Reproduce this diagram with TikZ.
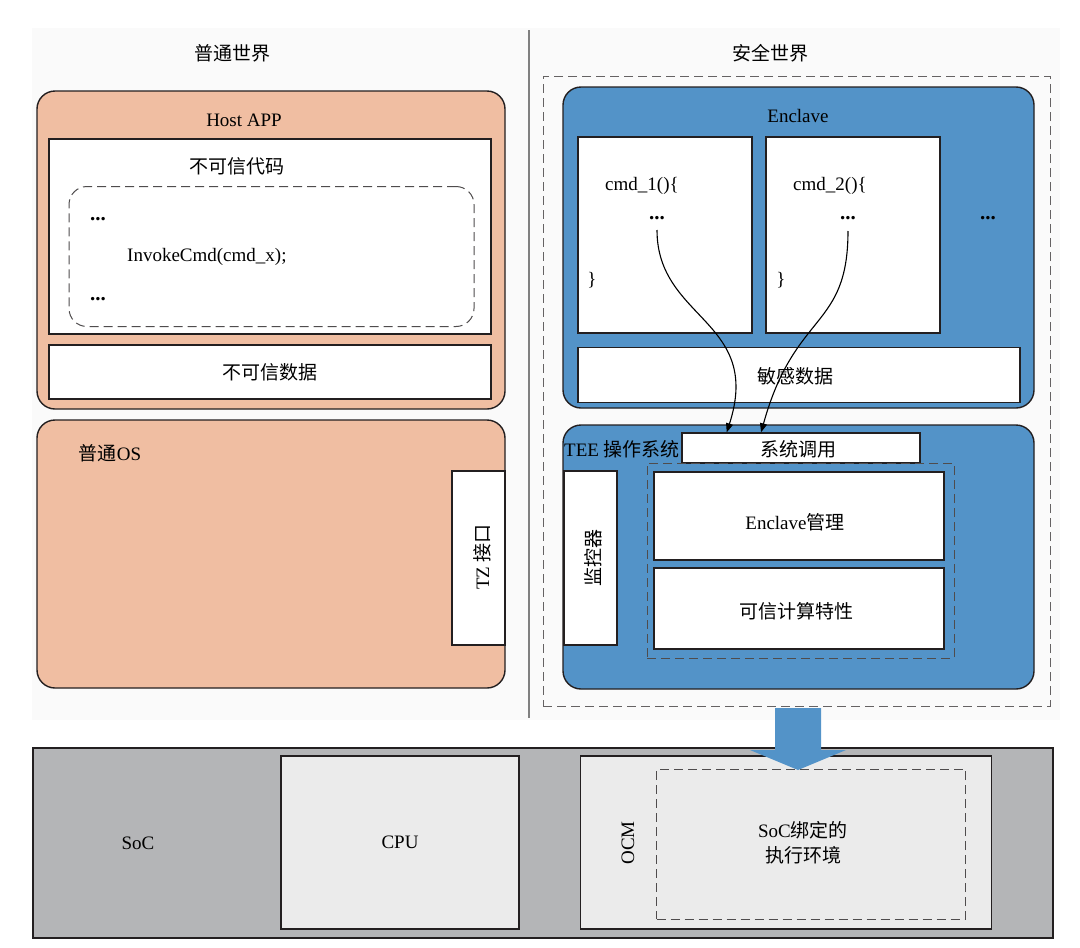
\documentclass[tikz,border=0pt]{standalone}
\usepackage{fontspec}
\setmainfont{Liberation Serif}
\newfontfamily\cjk{Noto Sans CJK SC}
\usepackage{xcolor}
\usetikzlibrary{positioning, calc, arrows.meta}

\definecolor{hostpink}{HTML}{F0BEA2}
\definecolor{teeblue}{HTML}{5393C8}
\definecolor{socgray}{HTML}{B4B5B7}
\definecolor{cpugray}{HTML}{EBEBEB}
\definecolor{edge}{HTML}{231F20}

\tikzset{
  box/.style={draw=edge, line width=1.4pt, fill=white, inner sep=0pt},
  rbox/.style={box, rounded corners=18pt},
  dbox/.style={draw=edge!80, line width=1pt, dash pattern=on 9pt off 5pt, inner sep=0pt},
  lbl/.style={font=\fontsize{19}{23}\selectfont, text=black, inner sep=1pt},
  dots/.style={lbl, font=\fontsize{21}{23}\selectfont\bfseries},
}

\begin{document}
\begin{tikzpicture}[x=1pt, y=-1pt, >={Triangle[length=9pt,width=7pt]}]
    \useasboundingbox (0,0) rectangle (1080,948);
    \fill[black!2] (32,28) rectangle (1060,720);

    % --- Titles and divider ---
    \node[lbl] (nwtitle) at (232,53) {\cjk 普通世界};
    \node[lbl] (swtitle) at (770,53) {\cjk 安全世界};
    \coordinate (divtop) at (529,30);
    \coordinate (divbot) at (529,718);
    \draw[gray, line width=1.4pt] (divtop) -- (divbot);

    % --- Normal world: Host APP ---
    \node[rbox, fill=hostpink, minimum width=468pt, minimum height=318pt] (hostapp) at (271,250) {};
    \node[lbl] (hosttitle) at (244,120) {Host APP};
    \node[box, minimum width=442pt, minimum height=195pt] (ucode) at (270,236.5) {};
    \node[lbl] (ucodetitle) at (237,166) {\cjk 不可信代码};
    \node[dbox, rounded corners=18pt, minimum width=405pt, minimum height=140pt] (calldash) at (271.5,256.5) {};
    \node[dots] (dotsa) at (98,219) {...};
    \node[lbl, anchor=west] (invoke) at (126,257) {InvokeCmd(cmd\_x);};
    \node[dots] (dotsb) at (98,299) {...};
    \node[box, minimum width=442pt, minimum height=54pt] (udata) at (270,372) {};
    \node[lbl] at (udata) {\cjk 不可信数据};

    % --- Normal world: OS ---
    \node[rbox, fill=hostpink, minimum width=468pt, minimum height=268pt] (normos) at (271,554) {};
    \node[lbl] (ostitle) at (110,453) {{\cjk 普通}OS};
    \node[box, minimum width=53pt, minimum height=174pt] (tzif) at (478.5,558) {};
    \node[lbl, rotate=90] at (482,557) {TZ {\cjk 接口}};

    % --- Secure world ---
    \node[dbox, draw=edge!70, minimum width=507pt, minimum height=630pt] (secure) at (796.5,391) {};
    \node[rbox, fill=teeblue, minimum width=471pt, minimum height=321pt] (enclave) at (798.5,247.5) {};
    \node[lbl] (enctitle) at (798,116) {Enclave};
    \node[box, minimum width=174pt, minimum height=196pt] (cmda) at (665,235) {};
    \node[box, minimum width=174pt, minimum height=196pt] (cmdb) at (853,235) {};
    \node[lbl, anchor=west] (cmdatext) at (604,186) {cmd\_1()\{};
    \node[lbl, anchor=west] (cmdbtext) at (792,186) {cmd\_2()\{};
    \node[dots] (dotsc) at (657,218) {...};
    \node[dots] (dotsd) at (848,218) {...};
    \node[dots] (dotse) at (988,218) {...};
    \node[lbl] (closea) at (592,280) {\}};
    \node[lbl] (closeb) at (781,280) {\}};
    \node[box, minimum width=442pt, minimum height=55pt] (sdata) at (799,375) {};
    \node[lbl] at (795,376) {\cjk 敏感数据};

    % --- TEE OS ---
    \node[rbox, fill=teeblue, minimum width=471pt, minimum height=264pt] (teeos) at (798.5,557) {};
    \node[lbl, anchor=west] (teetitle) at (563,449) {TEE {\cjk 操作系统}};
    \node[box, minimum width=238pt, minimum height=30pt] (syscall) at (801,448) {};
    \node[lbl] at (798,449) {\cjk 系统调用};
    \node[dbox, minimum width=307pt, minimum height=195pt] (teedash) at (800.5,560.5) {};
    \node[box, minimum width=290pt, minimum height=88pt] (emgmt) at (799,516) {};
    \node[lbl] at (795,522) {Enclave{\cjk 管理}};
    \node[box, minimum width=290pt, minimum height=81pt] (tcf) at (799,608.5) {};
    \node[lbl] at (796,611) {\cjk 可信计算特性};
    \node[box, minimum width=53pt, minimum height=174pt] (monitor) at (590.5,558) {};
    \node[lbl, rotate=90] at (593,558) {\cjk 监控器};

    % --- Calls into the TEE ---
    \coordinate (callb) at ($(syscall.north west)!0.3333!(syscall.north east)$);
    \coordinate (calla) at ($(syscall.north west)!0.1898!(syscall.north east)$);
    \draw[->, line width=1.1pt] ([yshift=-12pt]dotsc.center) .. controls (657,320) and (763,320) .. (calla);
    \draw[->, line width=1.1pt] ([yshift=-13pt]dotsd.center) .. controls (848,330) and (795,310) .. (callb);

    % --- SoC ---
    \node[box, fill=socgray, minimum width=1020pt, minimum height=190pt] (soc) at (543,843) {};
    \node[lbl] at (138,843) {SoC};
    \node[box, fill=cpugray, minimum width=238pt, minimum height=173pt] (cpu) at (400,842.5) {};
    \node[lbl] at (cpu) {CPU};
    \node[box, fill=cpugray, minimum width=411pt, minimum height=173pt] (ocm) at (786,842.5) {};
    \node[lbl, rotate=90] at (628,843) {OCM};
    \node[dbox, minimum width=309pt, minimum height=150pt] (socenv) at (811,844) {};
    \node[lbl, align=center] at (803,843) {SoC{\cjk 绑定的}\\[2pt]{\cjk 执行环境}};

    % big arrow from the secure world down to the SoC
    \fill[teeblue] (775,708) -- (821,708) -- (821,750) -- (846,750) -- (798,770)
        -- (750,750) -- (775,750) -- cycle;

\end{tikzpicture}
\end{document}
